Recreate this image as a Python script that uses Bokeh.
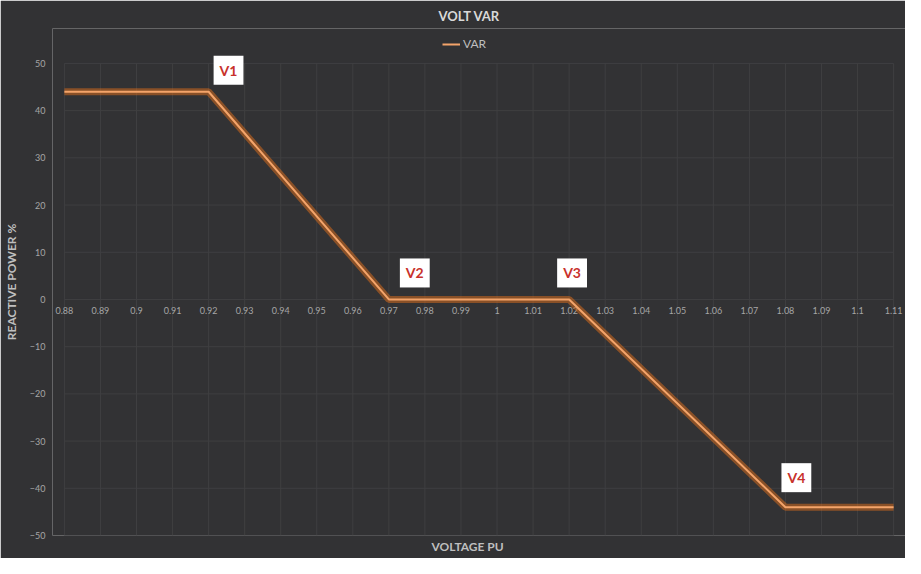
from bokeh.plotting import figure
from bokeh.models import (ColumnDataSource, FixedTicker, Legend, LegendItem, Label, Title)
from bokeh.core.properties import value
from bokeh.embed import file_html
from bokeh.resources import INLINE

# ---- data ----
voltage_pu = [0.88, 0.92, 0.97, 1.02, 1.08, 1.11]
reactive_pct = [44, 44, 0, 0, -44, -44]
knee_labels = ["V1", "V2", "V3", "V4"]
knee_x = [0.92, 0.97, 1.02, 1.08]
knee_y = [44, 0, 0, -44]
x_ticks = [0.88, 0.89, 0.90, 0.91, 0.92, 0.93, 0.94, 0.95, 0.96, 0.97, 0.98, 0.99,
           1.00, 1.01, 1.02, 1.03, 1.04, 1.05, 1.06, 1.07, 1.08, 1.09, 1.10, 1.11]
x_tick_labels = ["0.88", "0.89", "0.9", "0.91", "0.92", "0.93", "0.94", "0.95", "0.96",
                 "0.97", "0.98", "0.99", "1", "1.01", "1.02", "1.03", "1.04", "1.05",
                 "1.06", "1.07", "1.08", "1.09", "1.1", "1.11"]
y_ticks = [-50, -40, -30, -20, -10, 0, 10, 20, 30, 40, 50]

BG = "#323234"
GRID = "#3f3f41"
FONT = "Lato"

# frame padding (layout only): room for edge tick labels and the legend
x_pad = 0.0033
y_top = 57.4

p = figure(width=905, height=558,
           x_range=(x_ticks[0] - x_pad, x_ticks[-1] + x_pad),
           y_range=(y_ticks[0], y_top),
           output_backend="svg", toolbar_location=None,
           background_fill_color=BG, border_fill_color=BG,
           min_border_left=45, min_border_right=0, min_border_top=28, min_border_bottom=23)
p.outline_line_color = None

# title
p.title.text = "VOLT VAR"
p.title.align = "left"
p.title.offset = 386
p.title.text_color = "#d9d9d9"
p.title.text_font = FONT
p.title.text_font_size = "13px"
p.title.text_font_style = "bold"

# grid (drawn only over the tick span)
p.xaxis.visible = False
p.xgrid.visible = False
p.ygrid.visible = False
p.segment(x0=x_ticks, x1=x_ticks, y0=[y_ticks[0]] * len(x_ticks),
          y1=[y_ticks[-1]] * len(x_ticks), line_color=GRID, line_width=1)
p.segment(x0=[x_ticks[0]] * len(y_ticks), x1=[x_ticks[-1]] * len(y_ticks),
          y0=y_ticks, y1=y_ticks, line_color=GRID, line_width=1)

# y axis
p.yaxis.ticker = FixedTicker(ticks=y_ticks)
p.yaxis.axis_line_color = None
p.yaxis.major_tick_line_color = None
p.yaxis.minor_tick_line_color = None
p.yaxis.major_label_text_color = "#a6a6a6"
p.yaxis.major_label_text_font = FONT
p.yaxis.major_label_text_font_size = "9px"
p.yaxis.major_label_standoff = 1
p.yaxis.axis_label = "REACTIVE POWER %"
p.yaxis.axis_label_text_color = "#bfbfbf"
p.yaxis.axis_label_text_font = FONT
p.yaxis.axis_label_text_font_size = "12px"
p.yaxis.axis_label_text_font_style = "bold"
p.yaxis.axis_label_standoff = 8

# x tick labels drawn along the zero line
src_ticks = ColumnDataSource(dict(x=x_ticks, y=[0] * len(x_ticks), t=x_tick_labels))
p.text(x="x", y="y", text="t", source=src_ticks, text_align="center",
       text_baseline="middle", y_offset=11, text_color="#a6a6a6",
       text_font=value(FONT), text_font_size="9px")

# x axis title
p.add_layout(Title(text="VOLTAGE PU", align="left", offset=379, standoff=2,
                   text_color="#bfbfbf", text_font=FONT, text_font_size="12px",
                   text_font_style="bold"), "below")

# line with glow
src = ColumnDataSource(dict(x=voltage_pu, y=reactive_pct))
p.line("x", "y", source=src, line_color="#D2691E", line_width=7, line_alpha=0.55)
main = p.line("x", "y", source=src, line_color="#F4A46A", line_width=2)

legend = Legend(items=[LegendItem(label="VAR", renderers=[main])],
                orientation="horizontal", location=(390, 484),
                background_fill_alpha=0, border_line_color=None,
                label_text_color="#bfbfbf", label_text_font=FONT,
                label_text_font_size="12px", glyph_width=18, glyph_height=14,
                label_height=14, label_standoff=3, padding=2, margin=0)
p.add_layout(legend, "center")

# knee labels
x_offsets = [5, 11, -12, -4]
y_offsets = [7, 12, 12, 15]
for lab, kx, ky, xo, yo in zip(knee_labels, knee_x, knee_y, x_offsets, y_offsets):
    p.add_layout(Label(x=kx, y=ky, text=lab, x_offset=xo, y_offset=yo,
                       text_color="#C8312B", text_font=FONT, text_font_size="14px",
                       text_font_style="bold", background_fill_color="white",
                       padding=6))

open("out.html", "w").write(file_html(p, INLINE))
